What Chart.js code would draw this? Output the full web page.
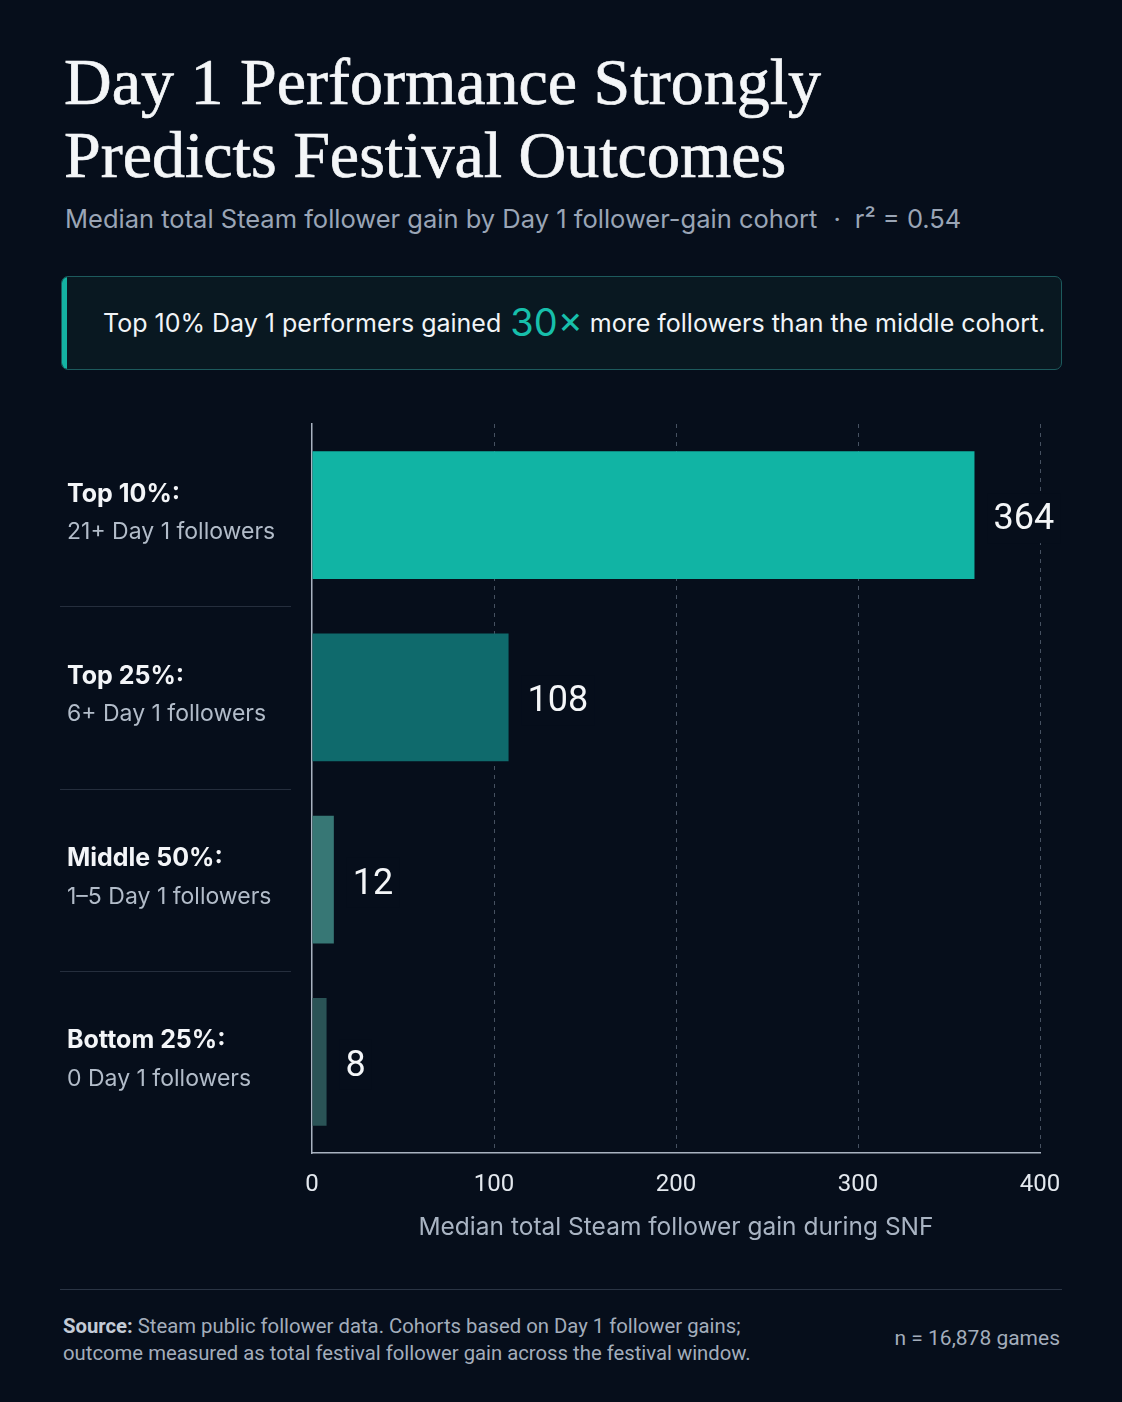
<!DOCTYPE html>
<html>
<head>
<meta charset="utf-8">
<script src="https://cdn.jsdelivr.net/npm/chart.js@4.4.1/dist/chart.umd.min.js"></script>
<style>
  html, body { margin: 0; padding: 0; }
  body {
    width: 1122px; height: 1402px; overflow: hidden;
    background: #060e1b;
    font-family: Roboto, "Noto Sans", sans-serif;
    position: relative;
  }
  .title {
    position: absolute; left: 64px; top: 45px;
    font-family: "Liberation Serif", serif; font-size: 66px; line-height: 73px;
    color: #f4f6f8; -webkit-text-stroke: 0.7px #f4f6f8; white-space: nowrap;
  }
  .subtitle {
    position: absolute; left: 65px; top: 205px;
    font-family: Inter, Roboto, sans-serif;
    font-size: 25.5px; line-height: 28px; color: #9aa5b6; white-space: nowrap;
  }
  .subtitle .dot { margin: 0 14px 0 16px; }
  .callout {
    position: absolute; left: 61px; top: 276px; width: 999px; height: 92px;
    border: 1px solid #1d5a5d; border-radius: 7px;
    background: #091821; overflow: hidden;
  }
  .callout .accent { position: absolute; left: 0; top: 0; bottom: 0; width: 5px; background: #14b3a3; }
  .callout .txt {
    position: absolute; left: 41px; top: 0; height: 92px;
    display: flex; align-items: center;
    font-family: Inter, Roboto, sans-serif; font-size: 25px; color: #f1f4f7; white-space: nowrap;
  }
  .callout .big { font-size: 38px; color: #17bfab; margin: 0 7px 0 9px; position: relative; top: -1px; }
  #chartBox { position: absolute; left: 0; top: 400px; width: 1122px; height: 860px; }
  .rule { position: absolute; left: 60px; top: 1289px; width: 1002px; height: 1px; background: #2a3444; }
  .source {
    position: absolute; left: 63px; top: 1313px;
    font-size: 20.3px; line-height: 27px; color: #a3adbb; white-space: nowrap;
  }
  .source b { color: #c3cbd6; }
  .n {
    position: absolute; right: 62px; top: 1325px;
    font-size: 21px; line-height: 27px; color: #a3adbb;
  }
</style>
</head>
<body>
<div class="title">Day 1 Performance Strongly<br>Predicts Festival Outcomes</div>
<div class="subtitle">Median total Steam follower gain by Day 1 follower-gain cohort<span class="dot">·</span>r² = 0.54</div>
<div class="callout">
  <div class="accent"></div>
  <div class="txt">Top 10% Day 1 performers gained<span class="big">30×</span>more followers than the middle cohort.</div>
</div>
<div id="chartBox"><canvas id="chart" width="1122" height="860"></canvas></div>
<div class="rule"></div>
<div class="source"><b>Source:</b> Steam public follower data. Cohorts based on Day 1 follower gains;<br>outcome measured as total festival follower gain across the festival window.</div>
<div class="n">n = 16,878 games</div>

<script>
// data
const cohortNames = ['Top 10%:', 'Top 25%:', 'Middle 50%:', 'Bottom 25%:'];
const cohortRanges = ['21+ Day 1 followers', '6+ Day 1 followers', '1\u20135 Day 1 followers', '0 Day 1 followers'];
const medianGain = [364, 108, 12, 8];
const xTickValues = [0, 100, 200, 300, 400];

// styling
const BG = '#060e1b';
const barColors = ['#11b4a4', '#0f6a6c', '#377775', '#2a5356'];
const axisColor = '#a9b3c1';
const gridColor = 'rgba(148, 163, 184, 0.45)';

// cohort labels + separators on the left, placed from the y scale
const cohortLabels = {
    id: 'cohortLabels',
    afterDraw(chart) {
        const ctx = chart.ctx;
        const y = chart.scales.y;
        const band = (y.bottom - y.top) / cohortNames.length;
        ctx.save();
        ctx.textAlign = 'left';
        ctx.textBaseline = 'middle';
        cohortNames.forEach((name, i) => {
            const cy = y.getPixelForValue(i);
            ctx.fillStyle = '#f3f5f8';
            ctx.font = 'bold 25px Inter, Roboto, sans-serif';
            ctx.fillText(name, 67, cy - 21);
            ctx.fillStyle = '#b2bcc9';
            ctx.font = '23px Inter, Roboto, sans-serif';
            ctx.fillText(cohortRanges[i], 67, cy + 17);
            if (i < cohortNames.length - 1) {
                ctx.strokeStyle = 'rgba(148, 163, 184, 0.22)';
                ctx.lineWidth = 1;
                ctx.beginPath();
                ctx.moveTo(60, Math.round(cy + band / 2) + 0.5);
                ctx.lineTo(291, Math.round(cy + band / 2) + 0.5);
                ctx.stroke();
            }
        });
        ctx.restore();
    }
};

// value at the end of every bar
const valueLabels = {
    id: 'valueLabels',
    afterDatasetsDraw(chart) {
        const ctx = chart.ctx;
        const meta = chart.getDatasetMeta(0);
        ctx.save();
        ctx.font = '36px Roboto, sans-serif';
        ctx.textAlign = 'left';
        ctx.textBaseline = 'middle';
        meta.data.forEach((bar, i) => {
            const txt = String(medianGain[i]);
            const w = ctx.measureText(txt).width;
            const x = bar.x + 19;
            ctx.fillStyle = BG;
            ctx.fillRect(x - 6, bar.y - 22, w + 12, 50);
            ctx.fillStyle = '#f4f6f8';
            ctx.fillText(txt, x, bar.y + 5);
        });
        ctx.restore();
    }
};

new Chart(document.getElementById('chart'), {
    type: 'bar',
    data: {
        labels: cohortNames,
        datasets: [{
            data: medianGain,
            backgroundColor: barColors,
            barPercentage: 0.7,
            categoryPercentage: 1.0,
            borderWidth: 0
        }]
    },
    options: {
        indexAxis: 'y',
        responsive: false,
        animation: false,
        layout: { padding: { top: 24, right: 82, bottom: 0, left: 0 } },
        plugins: {
            legend: { display: false },
            tooltip: { enabled: false }
        },
        scales: {
            x: {
                min: xTickValues[0],
                max: xTickValues[xTickValues.length - 1],
                afterFit: scale => { scale.height = 107; },
                afterBuildTicks: scale => { scale.ticks = xTickValues.map(v => ({ value: v })); },
                ticks: {
                    color: '#e3e8ee',
                    font: { family: 'Roboto, sans-serif', size: 24 },
                    padding: 18
                },
                grid: {
                    color: c => c.tick && c.tick.value === 0 ? 'transparent' : gridColor,
                    lineWidth: 1,
                    drawTicks: false
                },
                border: { display: true, color: axisColor, width: 1.5, dash: [4, 5] },
                title: {
                    display: true,
                    text: 'Median total Steam follower gain during SNF',
                    color: '#a9b4c3',
                    font: { family: 'Inter, Roboto, sans-serif', size: 24.5 },
                    padding: { top: 0, bottom: 18 }
                }
            },
            y: {
                afterFit: scale => { scale.width = 312; },
                ticks: { display: false },
                grid: { display: false },
                border: { display: true, color: axisColor, width: 1.5 }
            }
        }
    },
    plugins: [cohortLabels, valueLabels]
});
</script>
</body>
</html>
